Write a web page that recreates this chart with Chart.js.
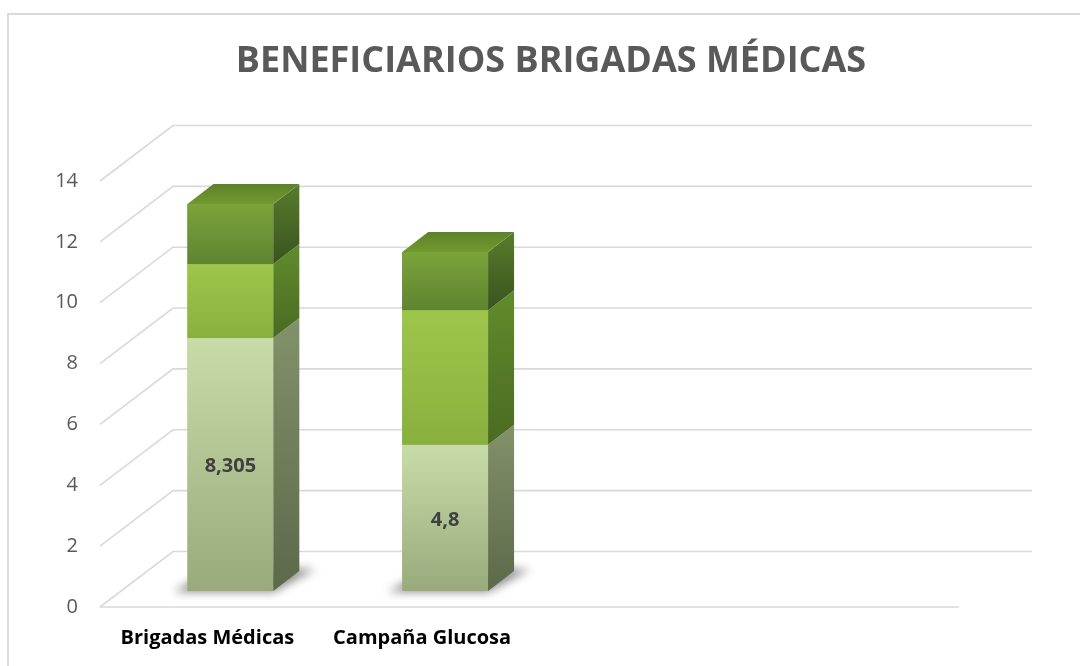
<!DOCTYPE html>
<html>
<head>
<meta charset="utf-8">
<script src="https://cdn.jsdelivr.net/npm/chart.js"></script>
<style>
  body { margin: 0; background: #ffffff; }
  canvas { display: block; }
</style>
</head>
<body>
<canvas id="beneficiariosChart" width="1080" height="666"></canvas>
<script>
// data
const categories = ['Brigadas Médicas', 'Campaña Glucosa', '', ''];
const serie1 = [8.305, 4.8];
const serie2 = [2.43, 4.42];
const serie3 = [1.97, 1.91];
const yTicks = [0, 2, 4, 6, 8, 10, 12, 14];

// 3d look: depth of the floor/back wall and of each bar
const wallDX = 73;
const wallDY = 55.5;
const barDX = 26;
const barDY = 20;
const barShiftX = 23;

const faces = [
    { front: ['#c8dca8', '#99aa7c'], side: ['#82926a', '#5c694a'] },
    { front: ['#9ec64b', '#89b03e'], side: ['#628c2c', '#4a6a22'] },
    { front: ['#7ba33b', '#5f8430'], side: ['#587c2b', '#3a531f'], top: ['#5d8229', '#71992f'] }
];

function vGrad(ctx, y0, y1, c) {
    const g = ctx.createLinearGradient(0, y0, 0, y1);
    g.addColorStop(0, c[0]);
    g.addColorStop(1, c[1]);
    return g;
}

function poly(ctx, pts, fill) {
    ctx.beginPath();
    ctx.moveTo(pts[0][0], pts[0][1]);
    for (let k = 1; k < pts.length; k++) {
        ctx.lineTo(pts[k][0], pts[k][1]);
    }
    ctx.closePath();
    ctx.fillStyle = fill;
    ctx.fill();
}

const caja3d = {
    id: 'caja3d',
    beforeDraw(chart) {
        // light frame round the chart
        const ctx = chart.ctx;
        ctx.save();
        ctx.strokeStyle = '#d9d9d9';
        ctx.lineWidth = 2;
        ctx.strokeRect(8, 14, 1200, 800);
        ctx.restore();
    },
    afterDatasetsUpdate(chart) {
        // bars sit a bit behind the front plane, so move them right
        chart.data.datasets.forEach((ds, d) => {
            chart.getDatasetMeta(d).data.forEach(el => { el.x += barShiftX; });
        });
    },
    beforeDatasetsDraw(chart) {
        const ctx = chart.ctx;
        const yf = chart.scales.yf;
        const area = chart.chartArea;
        ctx.save();
        ctx.strokeStyle = '#d9d9d9';
        ctx.lineWidth = 1.6;
        for (let v of yTicks) {
            const py = yf.getPixelForValue(v);
            ctx.beginPath();
            ctx.moveTo(area.left, py);
            ctx.lineTo(area.left + wallDX, py - wallDY);
            ctx.lineTo(area.right + wallDX, py - wallDY);
            ctx.stroke();
        }
        // floor front edge
        const p0 = yf.getPixelForValue(0);
        ctx.beginPath();
        ctx.moveTo(area.left, p0);
        ctx.lineTo(area.right, p0);
        ctx.stroke();

        // soft shadow under each bar
        const meta = chart.getDatasetMeta(0);
        ctx.filter = 'blur(5px)';
        meta.data.forEach((el, i) => {
            if (serie1[i] == null) return;
            const p = el.getProps(['x', 'base', 'width'], true);
            const l = p.x - p.width / 2;
            const r = p.x + p.width / 2;
            poly(ctx, [[l - 14, p.base + 1], [r, p.base + 1], [r + barDX + 16, p.base - barDY - 2], [l + barDX, p.base - barDY - 2]], 'rgba(0, 0, 0, 0.45)');
        });
        ctx.restore();
    },
    afterDatasetsDraw(chart) {
        const ctx = chart.ctx;
        const last = chart.data.datasets.length - 1;
        ctx.save();
        chart.data.datasets.forEach((ds, d) => {
            const f = faces[d];
            chart.getDatasetMeta(d).data.forEach((el, i) => {
                if (ds.data[i] == null) return;
                const p = el.getProps(['x', 'y', 'base', 'width'], true);
                const l = p.x - p.width / 2;
                const r = p.x + p.width / 2;
                const top = p.y;
                const bot = p.base;
                // front
                ctx.fillStyle = vGrad(ctx, top, bot, f.front);
                ctx.fillRect(l, top, r - l, bot - top);
                // right side
                poly(ctx, [[r, top], [r + barDX, top - barDY], [r + barDX, bot - barDY], [r, bot]], vGrad(ctx, top - barDY, bot, f.side));
                // lid only on the top segment
                if (d === last) {
                    poly(ctx, [[l, top], [l + barDX, top - barDY], [r + barDX, top - barDY], [r, top]], vGrad(ctx, top - barDY, top, f.top));
                }
            });
        });

        // value labels on the first segment
        ctx.font = 'bold 20px "Open Sans"';
        ctx.fillStyle = '#404040';
        ctx.textAlign = 'center';
        ctx.textBaseline = 'middle';
        chart.getDatasetMeta(0).data.forEach((el, i) => {
            if (serie1[i] == null) return;
            const p = el.getProps(['x', 'y', 'base'], true);
            ctx.fillText(String(serie1[i]).replace('.', ','), p.x, (p.y + p.base) / 2 + 2);
        });
        ctx.restore();
    }
};

const ctx = document.getElementById('beneficiariosChart').getContext('2d');
const beneficiariosChart = new Chart(ctx, {
    type: 'bar',
    data: {
        labels: categories,
        datasets: [
            { label: 'Serie 1', data: serie1, backgroundColor: '#b3c692', yAxisID: 'y' },
            { label: 'Serie 2', data: serie2, backgroundColor: '#93bb45', yAxisID: 'y' },
            { label: 'Serie 3', data: serie3, backgroundColor: '#6e9535', yAxisID: 'y' }
        ]
    },
    options: {
        responsive: false,
        animation: false,
        barPercentage: 0.4,
        categoryPercentage: 1,
        layout: { padding: { left: 22, right: 0, top: 0, bottom: 0 } },
        plugins: {
            legend: { display: false },
            tooltip: { enabled: false },
            title: {
                display: true,
                text: 'BENEFICIARIOS BRIGADAS MÉDICAS',
                color: '#595959',
                font: { family: '"Open Sans"', size: 36, weight: 'bold', lineHeight: 1.2 },
                padding: { top: 40, bottom: 41.8 }
            }
        },
        scales: {
            x: {
                stacked: true,
                grid: { display: false, drawTicks: false },
                border: { display: false },
                ticks: {
                    color: '#000000',
                    padding: 19,
                    maxRotation: 0,
                    font: { family: '"Open Sans"', size: 20, weight: 'bold' }
                },
                afterFit(scale) { scale.height = 59; }
            },
            y: {
                stacked: true,
                display: false,
                min: -0.525,
                max: 15.30
            },
            yf: {
                position: 'left',
                min: 0,
                max: 15.84,
                grid: { display: false, drawTicks: false },
                border: { display: false },
                ticks: {
                    color: '#595959',
                    padding: 22,
                    font: { family: '"Open Sans"', size: 20 }
                },
                afterBuildTicks(scale) {
                    scale.ticks = yTicks.map(v => ({ value: v }));
                },
                afterFit(scale) { scale.width = 78; }
            },
            // empty room on the right, where the back wall runs out
            derecha: {
                position: 'right',
                grid: { display: false, drawTicks: false },
                border: { display: false },
                ticks: { display: false },
                afterFit(scale) { scale.width = 121; }
            }
        }
    },
    plugins: [caja3d]
});
</script>
</body>
</html>
